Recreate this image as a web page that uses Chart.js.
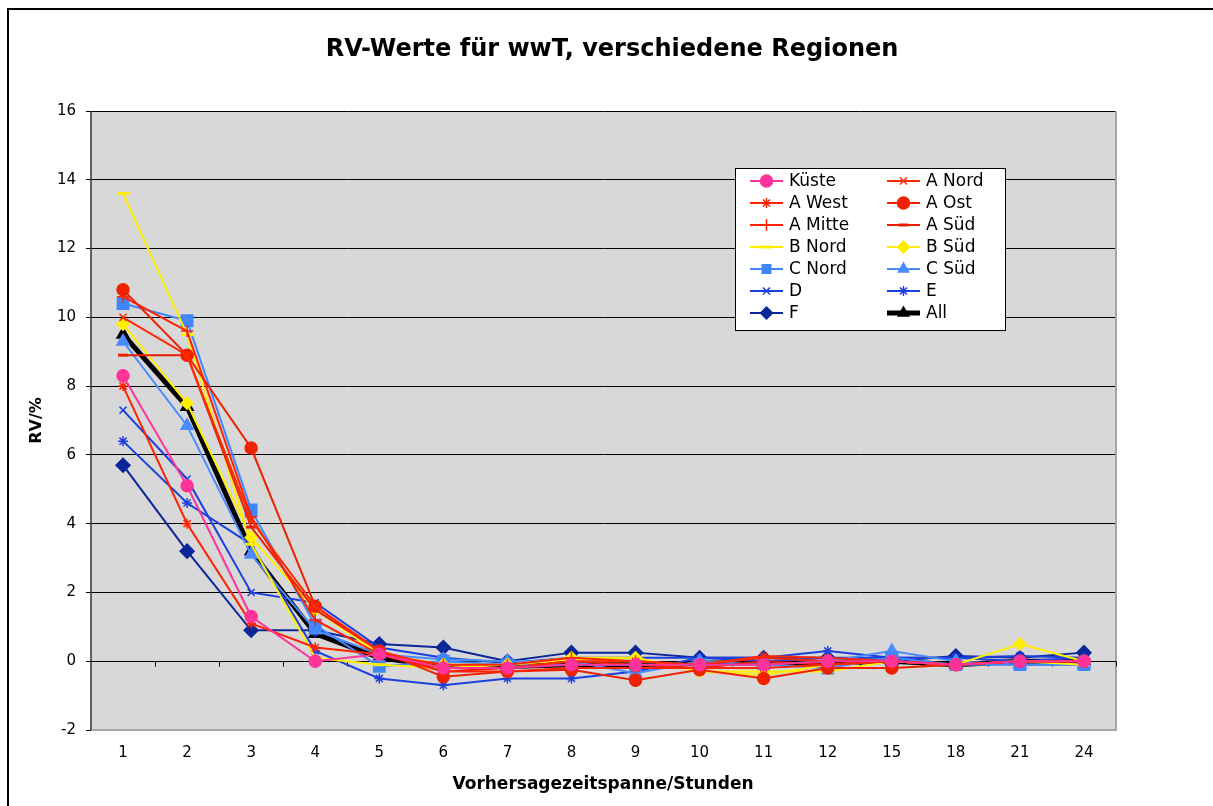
<!DOCTYPE html>
<html>
<head>
<meta charset="utf-8">
<title>RV-Werte für wwT</title>
<script src="https://cdn.jsdelivr.net/npm/chart.js@4.4.1/dist/chart.umd.min.js"></script>
<style>
  html, body { margin: 0; padding: 0; background: #fff; }
  #wrap { width: 1213px; height: 806px; }
</style>
</head>
<body>
<div id="wrap"><canvas id="rvChart" width="1213" height="806"></canvas></div>
<script>
// forecast horizon in hours (category axis)
const hours = ['1', '2', '3', '4', '5', '6', '7', '8', '9', '10', '11', '12', '15', '18', '21', '24'];
const yTicks = [-2, 0, 2, 4, 6, 8, 10, 12, 14, 16];

// RV in percent per region
const kueste = [8.3, 5.1, 1.3, 0.0, 0.2, -0.2, -0.2, -0.1, -0.1, -0.1, -0.1, 0.0, 0.0, -0.1, 0.0, 0.0];
const aNord  = [10.0, 8.9, 4.1, 1.6, 0.3, -0.2, -0.2, 0.0, 0.0, -0.1, 0.15, 0.1, 0.0, -0.1, 0.0, 0.0];
const aWest  = [8.0, 4.0, 1.1, 0.4, 0.2, -0.3, -0.3, -0.2, -0.2, -0.2, -0.2, -0.1, 0.0, -0.1, 0.0, 0.0];
const aOst   = [10.8, 8.9, 6.2, 1.6, 0.3, -0.45, -0.3, -0.25, -0.55, -0.25, -0.5, -0.2, -0.2, -0.1, 0.0, 0.0];
const aMitte = [10.6, 9.6, 4.2, 1.2, 0.2, -0.1, -0.1, 0.1, 0.0, -0.1, 0.1, 0.0, 0.0, -0.1, 0.0, 0.0];
const aSued  = [8.9, 8.9, 3.9, 1.5, 0.3, -0.3, -0.2, 0.0, -0.1, -0.2, 0.0, -0.1, 0.0, -0.1, 0.0, 0.0];
const bNord  = [13.6, 9.5, 3.4, 0.1, -0.1, -0.2, -0.1, 0.05, 0.1, -0.3, -0.3, -0.3, 0.0, -0.1, 0.0, -0.1];
const bSued  = [9.8, 7.5, 3.6, 1.5, 0.2, -0.1, -0.1, 0.1, 0.1, -0.3, -0.4, -0.1, 0.0, -0.1, 0.5, 0.0];
const cNord  = [10.4, 9.9, 4.4, 1.05, -0.15, 0.0, -0.1, -0.1, -0.1, -0.1, -0.1, -0.2, 0.1, -0.1, -0.1, -0.1];
const cSued  = [9.3, 6.85, 3.1, 0.9, 0.2, 0.05, 0.0, 0.0, -0.35, 0.0, -0.1, 0.0, 0.3, 0.0, -0.1, -0.1];
const regD   = [7.3, 5.3, 2.0, 1.7, 0.4, 0.1, -0.05, 0.1, 0.1, 0.1, 0.0, 0.1, 0.1, 0.1, 0.0, 0.1];
const regE   = [6.4, 4.6, 3.4, 0.3, -0.5, -0.7, -0.5, -0.5, -0.3, 0.1, 0.1, 0.3, 0.1, 0.1, 0.15, 0.1];
const regF   = [5.7, 3.2, 0.9, 0.9, 0.5, 0.4, 0.0, 0.25, 0.25, 0.1, 0.1, 0.1, 0.0, 0.15, 0.1, 0.25];
const all    = [9.5, 7.4, 3.2, 0.8, 0.1, -0.15, -0.15, -0.1, -0.1, -0.05, -0.05, -0.05, 0.0, -0.1, 0.0, 0.0];

// legend order is row by row, two columns
const series = [
  { label: 'Küste',  data: kueste, color: '#ff3399', style: 'circle',   r: 6 },
  { label: 'A Nord', data: aNord,  color: '#ff2a00', style: 'crossRot', r: 5 },
  { label: 'A West', data: aWest,  color: '#ff2200', style: 'star',     r: 5 },
  { label: 'A Ost',  data: aOst,   color: '#ee2200', style: 'circle',   r: 6 },
  { label: 'A Mitte',data: aMitte, color: '#ff2200', style: 'cross',    r: 6 },
  { label: 'A Süd',  data: aSued,  color: '#e82000', style: 'line',     r: 5 },
  { label: 'B Nord', data: bNord,  color: '#ffee00', style: 'line',     r: 6 },
  { label: 'B Süd',  data: bSued,  color: '#ffee00', style: 'rectRot',  r: 6 },
  { label: 'C Nord', data: cNord,  color: '#3f86ff', style: 'rect',     r: 8 },
  { label: 'C Süd',  data: cSued,  color: '#4a8cff', style: 'triangle', r: 7 },
  { label: 'D',      data: regD,   color: '#1c3fe0', style: 'crossRot', r: 5 },
  { label: 'E',      data: regE,   color: '#1c3fe0', style: 'star',     r: 5 },
  { label: 'F',      data: regF,   color: '#0a2699', style: 'rectRot',  r: 7 },
  { label: 'All',    data: all,    color: '#000000', style: 'triangle', r: 7 }
];

const datasets = series.map(s => ({
  label: s.label,
  data: s.data,
  borderColor: s.color,
  backgroundColor: s.color,
  borderWidth: s.label === 'All' ? 5 : 2,
  pointStyle: s.style,
  pointRadius: s.r,
  pointBorderWidth: s.style === 'line' ? 3 : 1.5,
  pointBackgroundColor: s.color,
  pointBorderColor: s.color,
  tension: 0,
  fill: false
}));

const FONT = 'DejaVu Sans';

// background, frame, titles, zero axis and the boxed legend
const decorations = {
  id: 'decorations',
  beforeDraw(chart) {
    const { ctx, chartArea: a } = chart;
    ctx.save();
    ctx.fillStyle = '#fff';
    ctx.fillRect(0, 0, chart.width, chart.height);
    ctx.strokeStyle = '#000';
    ctx.lineWidth = 2;
    ctx.beginPath();
    ctx.moveTo(8, chart.height);
    ctx.lineTo(8, 9);
    ctx.lineTo(chart.width, 9);
    ctx.stroke();
    ctx.fillStyle = '#d8d8d8';
    ctx.fillRect(a.left, a.top, a.right - a.left, a.bottom - a.top);
    ctx.restore();
  },
  beforeDatasetsDraw(chart) {
    const { ctx, chartArea: a, scales } = chart;
    const x = scales.x, y = scales.y;
    ctx.save();
    // plot border right and bottom
    ctx.strokeStyle = '#a6a6a6';
    ctx.lineWidth = 2;
    ctx.beginPath();
    ctx.moveTo(a.right, a.top);
    ctx.lineTo(a.right, a.bottom);
    ctx.lineTo(a.left, a.bottom);
    ctx.stroke();
    // value axis
    ctx.strokeStyle = '#333';
    ctx.lineWidth = 1.5;
    ctx.beginPath();
    ctx.moveTo(a.left, a.top);
    ctx.lineTo(a.left, a.bottom);
    ctx.stroke();
    // category axis runs along zero with ticks between categories
    const y0 = Math.round(y.getPixelForValue(0)) + 0.5;
    ctx.strokeStyle = '#000';
    ctx.lineWidth = 1;
    ctx.beginPath();
    ctx.moveTo(a.left, y0);
    ctx.lineTo(a.right, y0);
    const step = x.getPixelForTick(1) - x.getPixelForTick(0);
    for (let i = 0; i < hours.length; i++) {
      const bx = Math.round(x.getPixelForTick(i) + step / 2) + 0.5;
      ctx.moveTo(bx, y0);
      ctx.lineTo(bx, y0 + 5);
    }
    ctx.stroke();
    ctx.restore();
  },
  afterDraw(chart) {
    const { ctx, chartArea: a } = chart;
    ctx.save();
    ctx.fillStyle = '#000';
    ctx.textAlign = 'center';
    ctx.textBaseline = 'middle';
    ctx.font = 'bold 24px ' + FONT;
    ctx.fillText('RV-Werte für wwT, verschiedene Regionen', 612, 50);
    ctx.font = 'bold 17px ' + FONT;
    ctx.fillText('Vorhersagezeitspanne/Stunden', 603, 785);
    ctx.font = 'bold 16px ' + FONT;
    ctx.translate(37, (a.top + a.bottom) / 2);
    ctx.rotate(-Math.PI / 2);
    ctx.fillText('RV/%', 0, 0);
    ctx.restore();

    // legend box
    ctx.save();
    ctx.fillStyle = '#fff';
    ctx.fillRect(735, 168, 270, 162);
    ctx.strokeStyle = '#000';
    ctx.lineWidth = 1;
    ctx.strokeRect(735.5, 168.5, 270, 162);
    ctx.font = '17px ' + FONT;
    ctx.textAlign = 'left';
    ctx.textBaseline = 'middle';
    chart.data.datasets.forEach((ds, i) => {
      const x0 = i % 2 === 0 ? 750 : 887;
      const yy = 181 + Math.floor(i / 2) * 22;
      ctx.strokeStyle = ds.borderColor;
      ctx.fillStyle = ds.borderColor;
      ctx.lineWidth = ds.borderWidth;
      ctx.beginPath();
      ctx.moveTo(x0, yy);
      ctx.lineTo(x0 + 33, yy);
      ctx.stroke();
      ctx.lineWidth = ds.pointBorderWidth;
      Chart.helpers.drawPoint(ctx, {
        pointStyle: ds.pointStyle,
        radius: Math.min(ds.pointRadius, 6),
        rotation: 0,
        borderWidth: ds.pointBorderWidth
      }, x0 + 16.5, yy);
      ctx.fillStyle = '#000';
      ctx.fillText(ds.label, x0 + 39, yy + 1);
    });
    ctx.restore();
  }
};

new Chart(document.getElementById('rvChart'), {
  type: 'line',
  data: { labels: hours, datasets: datasets },
  plugins: [decorations],
  options: {
    responsive: false,
    devicePixelRatio: 1,
    animation: false,
    layout: { padding: { top: 111, right: 97, left: 0, bottom: 0 } },
    plugins: {
      legend: { display: false },
      title: { display: false },
      tooltip: { enabled: false }
    },
    scales: {
      x: {
        type: 'category',
        offset: true,
        grid: { display: false },
        border: { display: false },
        ticks: {
          color: '#000',
          padding: 6,
          maxRotation: 0,
          autoSkip: false,
          font: { family: FONT, size: 15 }
        },
        afterFit(scale) { scale.height = 76; }
      },
      y: {
        min: -2,
        max: 16,
        afterBuildTicks(scale) { scale.ticks = yTicks.map(v => ({ value: v })); },
        grid: {
          color: ctx => ctx.tick && ctx.tick.value === -2 ? '#a6a6a6' : '#000',
          lineWidth: 1,
          tickLength: 5,
          tickColor: '#000'
        },
        border: { display: false },
        ticks: {
          color: '#000',
          padding: 10,
          font: { family: FONT, size: 15 }
        },
        afterFit(scale) { scale.width = 91; }
      }
    }
  }
});
</script>
</body>
</html>
